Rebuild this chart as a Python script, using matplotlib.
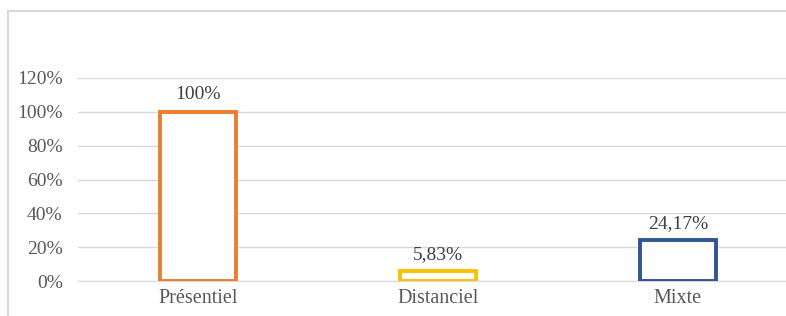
import matplotlib.pyplot as plt
from matplotlib.patches import Rectangle

categories = ["Présentiel", "Distanciel", "Mixte"]
values = [100, 5.83, 24.17]
labels = ["100%", "5,83%", "24,17%"]
colors = ["#ED7D31", "#FFC000", "#2F5597"]

plt.rcParams['font.family'] = ['Liberation Serif', 'DejaVu Serif']

W, H = 786, 316
fig = plt.figure(figsize=(W / 100, H / 100), dpi=100)

# chart frame (cut by the picture edge on the right and bottom)
fig.patches.append(Rectangle((8 / W, -0.1), 1.2, 1.1 - 11 / H, transform=fig.transFigure,
                             fill=False, edgecolor="#d9d9d9", linewidth=1.5))

ax = fig.add_axes([78 / W, 1 - 281 / H, 720 / W, 203 / H])
x = range(len(categories))
ax.bar(x, values, width=0.32, facecolor="white", edgecolor=colors, linewidth=2.8, zorder=3)
for i, v in enumerate(values):
    ax.text(i, v + 5, labels[i], ha="center", va="bottom", fontsize=14, color="#404040")

ax.set_xlim(-0.5, 2.5)
ax.set_ylim(0, 120)
ax.set_yticks(range(0, 121, 20))
ax.set_yticklabels([f"{t}%" for t in range(0, 121, 20)])
ax.set_xticks(list(x))
ax.set_xticklabels(categories)
ax.tick_params(length=0, labelsize=14, colors="#595959", pad=11)
ax.tick_params(axis="x", labelsize=14.5, pad=6)
ax.grid(axis="y", color="#d9d9d9", linewidth=1)
for s in ax.spines.values():
    s.set_visible(False)
ax.spines["bottom"].set_visible(True)
ax.spines["bottom"].set_color("#d9d9d9")

fig.savefig("out.png", dpi=100)
